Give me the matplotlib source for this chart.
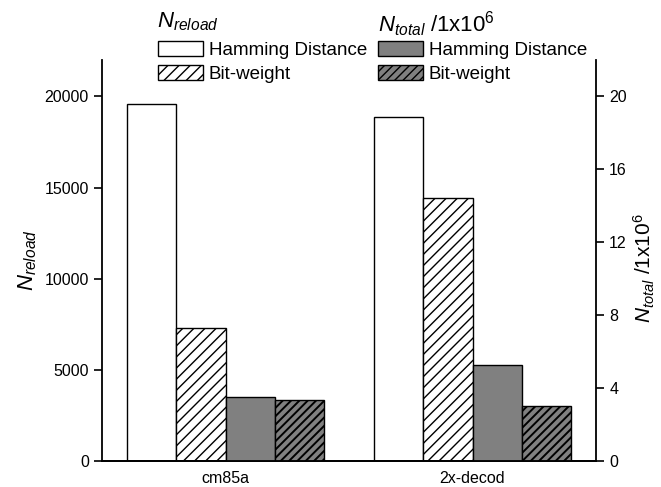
import matplotlib
matplotlib.use("Agg")
import matplotlib.pyplot as plt
import numpy as np
from matplotlib.patches import Patch

plt.rcParams['font.family'] = ['Liberation Sans', 'DejaVu Sans']
plt.rcParams['mathtext.fontset'] = 'custom'
plt.rcParams['mathtext.it'] = 'Liberation Sans:italic'
plt.rcParams['mathtext.rm'] = 'Liberation Sans'
plt.rcParams['hatch.linewidth'] = 1.0

categories = ["cm85a", "2x-decod"]
reload_hd = [19600, 18850]
reload_bw = [7300, 14450]
total_hd = [3.5, 5.28]
total_bw = [3.35, 3.0]
left_ticks = [0, 5000, 10000, 15000, 20000]
right_ticks = [0, 4, 8, 12, 16, 20]

W, H = 661, 487
fig = plt.figure(figsize=(W / 100, H / 100), dpi=100)
ax = fig.add_axes([102 / W, 1 - 461 / H, (596 - 102) / W, (461 - 60) / H])
ax2 = ax.twinx()

x = np.arange(len(categories))
w = 0.2
lw = 1.0
gray = '#808080'
white_hatch = '///'
dark_hatch = '////'


def thick_hatch(items, v):
    for b in items:
        try:
            b.set_hatch_linewidth(v)
        except Exception:
            pass


ax.bar(x - 0.3, reload_hd, w, color='white', edgecolor='black', linewidth=lw)
ax.bar(x - 0.1, reload_bw, w, color='white', edgecolor='black', linewidth=lw, hatch=white_hatch)
ax2.bar(x + 0.1, total_hd, w, color=gray, edgecolor='black', linewidth=lw)
bd = ax2.bar(x + 0.3, total_bw, w, color=gray, edgecolor='black', linewidth=lw, hatch=dark_hatch)
thick_hatch(bd, 1.4)

ax.set_xlim(-0.5, 1.5)
ax.set_ylim(0, 22000)
ax2.set_ylim(0, 22)
ax.set_yticks(left_ticks)
ax2.set_yticks(right_ticks)
ax.set_xticks(x)
ax.set_xticklabels(categories, fontsize=11.5)
ax.tick_params(axis='x', length=0, pad=7)
ax.tick_params(axis='y', labelsize=11.5, length=6, width=1.2, direction='out')
ax2.tick_params(axis='y', labelsize=11.5, length=6, width=1.2, direction='out')

for a in (ax, ax2):
    a.spines['top'].set_visible(False)
    for s in ('left', 'right', 'bottom'):
        a.spines[s].set_linewidth(1.3)
ax2.spines['left'].set_visible(False)
ax.spines['right'].set_visible(False)

ax.set_ylabel(r'$\mathit{N}_{\mathit{reload}}$', fontsize=16, labelpad=4)
ax2.set_ylabel(r'$\mathit{N}_{\mathit{total}}$ /1x10$^{6}$', fontsize=15)
ax2.yaxis.set_label_coords(1.072, 0.48)

fig.text(157 / W, 1 - 10 / H, r'$\mathit{N}_{\mathit{reload}}$', fontsize=16, ha='left', va='top')
fig.text(378 / W, 1 - 10 / H, r'$\mathit{N}_{\mathit{total}}$ /1x10$^{6}$', fontsize=16, ha='left', va='top')

h1 = [Patch(facecolor='white', edgecolor='black', linewidth=lw),
      Patch(facecolor='white', edgecolor='black', linewidth=lw, hatch=white_hatch)]
h2 = [Patch(facecolor=gray, edgecolor='black', linewidth=lw),
      Patch(facecolor=gray, edgecolor='black', linewidth=lw, hatch=dark_hatch)]
thick_hatch([h2[1]], 1.4)
labels = ["Hamming Distance", "Bit-weight"]

common = dict(loc='upper left', frameon=False, fontsize=13.5, handlelength=2.4,
              handleheight=0.85, handletextpad=0.3, labelspacing=0.3,
              borderpad=0, borderaxespad=0)
fig.legend(h1, labels, bbox_to_anchor=(158 / W, 1 - 41 / H), **common)
fig.legend(h2, labels, bbox_to_anchor=(378 / W, 1 - 41 / H), **common)

fig.savefig('out.png', dpi=100)
